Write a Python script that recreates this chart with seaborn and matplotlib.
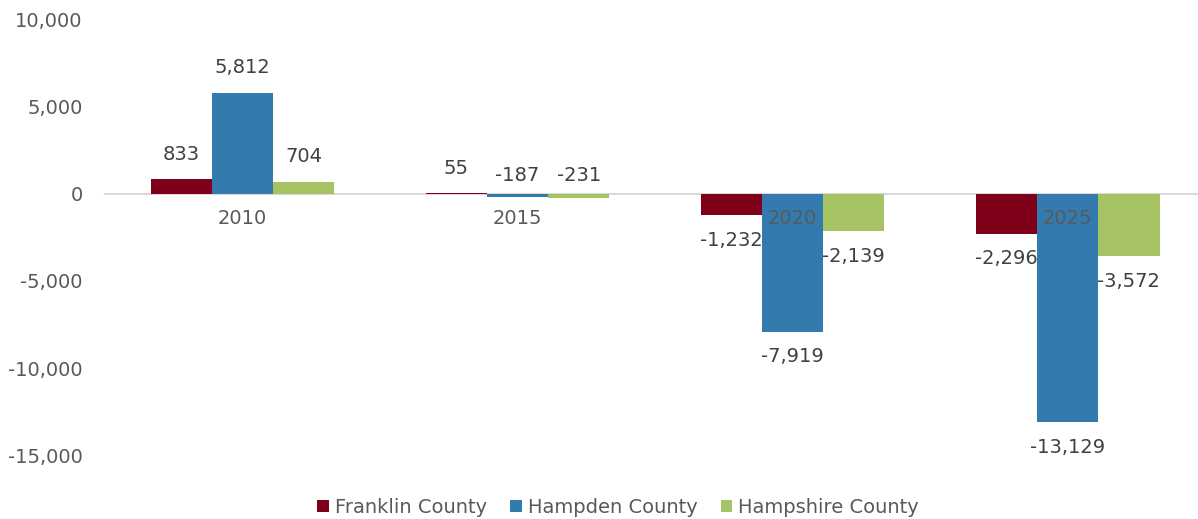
import matplotlib
matplotlib.use("Agg")
import matplotlib.pyplot as plt
from matplotlib.patches import Patch
import seaborn as sns
import pandas as pd

# Net change by county and year
years = ["2010", "2015", "2020", "2025"]
franklin = [833, 55, -1232, -2296]
hampden = [5812, -187, -7919, -13129]
hampshire = [704, -231, -2139, -3572]
counties = ["Franklin County", "Hampden County", "Hampshire County"]
colors = ["#7E0019", "#337BAE", "#A5C362"]
y_ticks = [-15000, -10000, -5000, 0, 5000, 10000]

rows = []
for county, vals in zip(counties, [franklin, hampden, hampshire]):
    for yr, v in zip(years, vals):
        rows.append({"Year": yr, "County": county, "Value": v})
df = pd.DataFrame(rows)

sns.set_theme(style="white")
plt.rcParams["font.family"] = ["DejaVu Sans"]

fig = plt.figure(figsize=(11.98, 5.19), dpi=100)
ax = fig.add_axes([0.0876, 0.1233, 0.9185, 0.8382])

sns.barplot(data=df, x="Year", y="Value", hue="County", order=years,
            hue_order=counties, palette=colors, width=0.667, dodge=True,
            saturation=1, errorbar=None, ax=ax, legend=False, linewidth=0)

ax.set_xlim(-0.5, 3.5)
ax.set_ylim(-15000, 10000)
ax.set_yticks(y_ticks)
ax.set_yticklabels([f"{t:,}" for t in y_ticks])
ax.set_xlabel("")
ax.set_ylabel("")

for side in ["top", "right", "left"]:
    ax.spines[side].set_visible(False)
ax.spines["bottom"].set_position(("data", 0))
ax.spines["bottom"].set_color("#D9D9D9")
ax.spines["bottom"].set_linewidth(1.5)
ax.spines["bottom"].set_zorder(0)

ax.tick_params(axis="both", length=0, labelsize=14, labelcolor="#595959")
ax.tick_params(axis="y", pad=16)
ax.tick_params(axis="x", pad=11)
# category labels sit on the zero line and stay visible over the bars
ax.xaxis.set_zorder(5)

# Value labels just beyond each bar's end; tiny bars get labels above the baseline
for cont in ax.containers:
    for bar, val in zip(cont.patches, cont.datavalues):
        cx = bar.get_x() + bar.get_width() / 2
        if val >= 0 or abs(val) < 500:
            ybase = max(val, 0)
            off = 18 if val >= 0 else 13
        else:
            ybase = val
            off = -18
        ax.annotate(f"{int(val):,}", (cx, ybase), xytext=(0, off),
                    textcoords="offset points", ha="center", va="center",
                    fontsize=14, color="#404040")

handles = [Patch(facecolor=c, edgecolor="none") for c in colors]
fig.legend(handles, counties, loc="lower center", bbox_to_anchor=(0.516, -0.03),
           ncol=3, frameon=False, fontsize=14, labelcolor="#595959",
           handlelength=0.6, handleheight=0.6, handletextpad=0.3,
           columnspacing=1.2)

fig.savefig("out.png", dpi=100)
